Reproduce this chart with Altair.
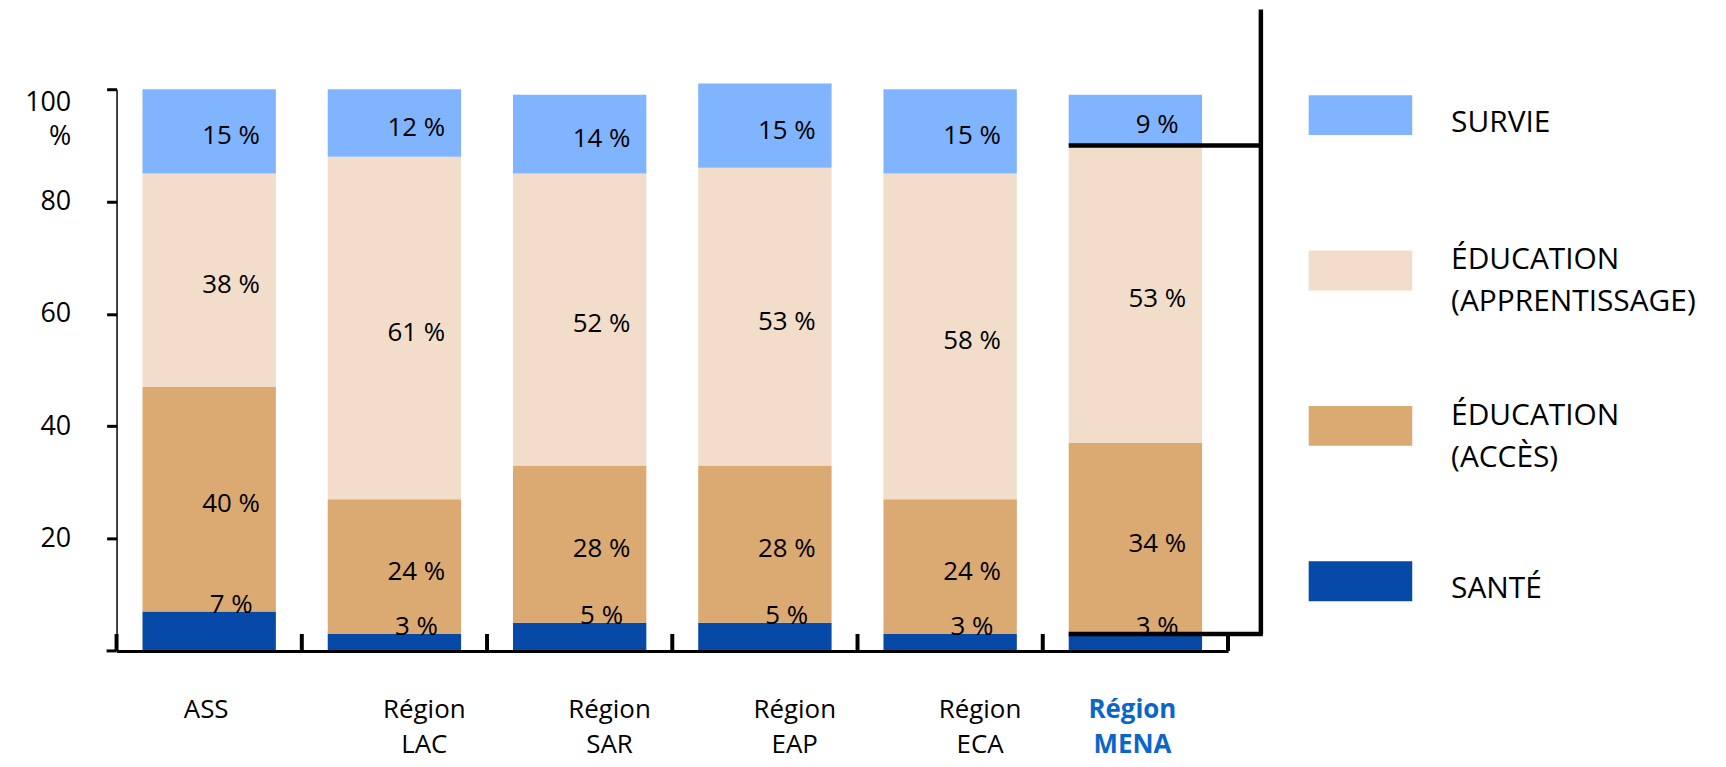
import altair as alt
import pandas as pd

categories = ["ASS", "Région LAC", "Région SAR", "Région EAP", "Région ECA", "Région MENA"]
sante = [7, 3, 5, 5, 3, 3]
acces = [40, 24, 28, 28, 24, 34]
apprentissage = [38, 61, 52, 53, 58, 53]
survie = [15, 12, 14, 15, 15, 9]
series_names = ["SURVIE", "ÉDUCATION (APPRENTISSAGE)", "ÉDUCATION (ACCÈS)", "SANTÉ"]
series_colors = ["#80B4FE", "#F1DDC9", "#DBA972", "#0749A6"]
y_ticks = [20, 40, 60, 80, 100]
highlight = "Région MENA"

FONT = "Open Sans"
W, H = 1116, 564
P_INNER, P_OUTER = 0.28, 0.14
step = W / len(categories)
gap = P_INNER * step / 2

stack_order = [("SANTÉ", sante), ("ÉDUCATION (ACCÈS)", acces),
               ("ÉDUCATION (APPRENTISSAGE)", apprentissage), ("SURVIE", survie)]
rows = []
for i, c in enumerate(categories):
    base = 0
    for name, vals in stack_order:
        v = vals[i]
        rows.append(dict(cat=c, serie=name, start=base, end=base + v,
                         mid=base + v / 2, label=f"{v} %"))
        base += v
df = pd.DataFrame(rows)

xscale = alt.Scale(domain=categories, paddingInner=P_INNER, paddingOuter=P_OUTER)
yscale = alt.Scale(domain=[0, 100], nice=False)
cscale = alt.Scale(domain=series_names, range=series_colors)

is_edge = "datum.value == 'ASS' || datum.value == 'Région MENA'"
is_hl = f"datum.value == '{highlight}'"
xaxis = alt.Axis(
    title=None, ticks=False, domainColor="black", domainWidth=3, labelAngle=0,
    labelFont=FONT, labelFontSize=26,
    labelColor={"condition": {"test": is_hl, "value": "#0B66C8"}, "value": "black"},
    labelFontWeight={"condition": {"test": is_hl, "value": "bold"}, "value": "normal"},
    labelOffset={"condition": {"test": is_edge, "value": -3}, "value": 30},
    labelExpr="split(datum.label, ' ')", labelLineHeight=35, labelPadding=46,
    labelBaseline="top", zindex=1,
)
yaxis = alt.Axis(
    title=None, values=y_ticks, grid=False, domainColor="black", domainWidth=1.5,
    tickColor="black", tickSize=10, tickWidth=3, labelFont=FONT, labelFontSize=27,
    labelColor="black", labelPadding=36, labelLineHeight=35,
    labelExpr="datum.value == 100 ? ['100\u00a0\u00a0\u00a0', '%'] : datum.label",
    labelBaseline={"condition": {"test": "datum.value == 100", "value": "top"}, "value": "middle"},
    zindex=1,
)

x_enc = alt.X("cat:N", scale=xscale, sort=categories, axis=xaxis)

bars = alt.Chart(df).mark_bar(strokeWidth=0).encode(
    x=x_enc,
    y=alt.Y("start:Q", scale=yscale, axis=yaxis),
    y2="end:Q",
    color=alt.Color("serie:N", scale=cscale, legend=None),
)

labels_main = alt.Chart(df[df.serie != "SANTÉ"]).mark_text(
    font=FONT, fontSize=26, dx=22, dy=5, color="black", align="center", baseline="middle"
).encode(x=x_enc, y=alt.Y("mid:Q", scale=yscale, axis=yaxis), text="label:N")

labels_sante = alt.Chart(df[df.serie == "SANTÉ"]).mark_text(
    font=FONT, fontSize=26, dx=22, dy=-7, color="black", align="center", baseline="middle"
).encode(x=x_enc, y=alt.Y("end:Q", scale=yscale, axis=yaxis), text="label:N")

tick_df = pd.DataFrame({"cat": categories})
ticks = alt.Chart(tick_df).mark_rule(color="black", strokeWidth=4, xOffset=-gap).encode(
    x=alt.X("cat:N", scale=xscale, sort=categories, axis=xaxis, bandPosition=0),
    y=alt.value(H), y2=alt.value(H - 17),
)
last_tick = alt.Chart(tick_df.tail(1)).mark_rule(color="black", strokeWidth=4, xOffset=gap).encode(
    x=alt.X("cat:N", scale=xscale, sort=categories, axis=xaxis, bandPosition=1),
    y=alt.value(H), y2=alt.value(H - 17),
)
x_ext = alt.Chart(tick_df.head(1)).mark_rule(color="black", strokeWidth=3).encode(
    x=alt.value(-10), x2=alt.value(0), y=alt.value(H),
)

mi = categories.index(highlight)
bracket = pd.DataFrame({"cat": [highlight, highlight],
                        "yv": [sante[mi] + acces[mi] + apprentissage[mi], sante[mi]]})
bracket_right = W + 33
hlines = alt.Chart(bracket).mark_rule(color="black", strokeWidth=4.5).encode(
    x=alt.X("cat:N", scale=xscale, sort=categories, axis=xaxis, bandPosition=0),
    x2=alt.value(bracket_right + 2),
    y=alt.Y("yv:Q", scale=yscale, axis=yaxis),
)
vline = alt.Chart(bracket.tail(1)).mark_rule(color="black", strokeWidth=4.5).encode(
    x=alt.value(bracket_right),
    y=alt.Y("yv:Q", scale=yscale, axis=yaxis),
    y2=alt.value(-80),
)

main = alt.layer(bars, labels_main, labels_sante, ticks, last_tick, x_ext, hlines, vline)

# legend (drawn as marks so that wrapped labels get proper line spacing)
leg_df = pd.DataFrame({
    "serie": series_names,
    "pos": list(range(len(series_names))),
    "text": [s.replace(" ", "\n") for s in series_names],
    "lines": [len(s.split(" ")) for s in series_names],
})
leg_y = alt.Scale(domain=[0, len(series_names) - 1], range=[26, 494], nice=False, zero=False)
LEG_X0, LEG_X1, LEG_TX = 1197, 1301, 1340
swatches = alt.Chart(leg_df).mark_rule(strokeWidth=40, strokeCap="butt").encode(
    x=alt.value(LEG_X0), x2=alt.value(LEG_X1),
    y=alt.Y("pos:Q", scale=leg_y, axis=None),
    color=alt.Color("serie:N", scale=cscale, legend=None),
)
leg_text1 = alt.Chart(leg_df[leg_df.lines == 1]).mark_text(
    font=FONT, fontSize=30, color="black", align="left", baseline="middle", dy=8
).encode(x=alt.value(LEG_TX), y=alt.Y("pos:Q", scale=leg_y, axis=None), text="text:N")
leg_text2 = alt.Chart(leg_df[leg_df.lines == 2]).mark_text(
    font=FONT, fontSize=30, color="black", align="left", baseline="middle", dy=-10,
    lineBreak="\n", lineHeight=42,
).encode(x=alt.value(LEG_TX), y=alt.Y("pos:Q", scale=leg_y, axis=None), text="text:N")
legend_layer = alt.layer(swatches, leg_text1, leg_text2)

chart = alt.layer(main, legend_layer).resolve_scale(y="independent").properties(
    width=W, height=H,
    padding={"left": 109, "top": 80, "right": 492, "bottom": 115},
    autosize=alt.AutoSizeParams(type="none"),
).configure_view(stroke=None)

chart.save("out.html", embed_options={"renderer": "svg", "actions": False})
